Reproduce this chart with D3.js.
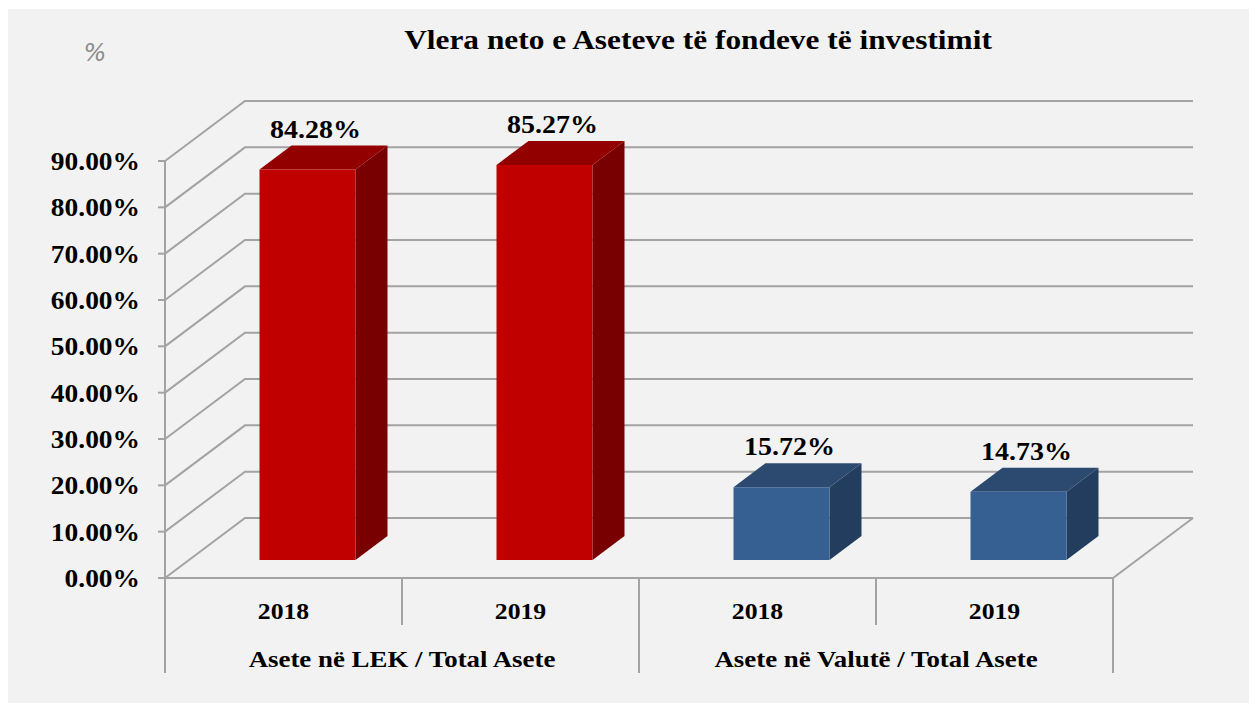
<!DOCTYPE html>
<html>
<head>
<meta charset="utf-8">
<script src="https://cdn.jsdelivr.net/npm/d3@7"></script>
<style>
  body { margin: 0; background: #ffffff; }
  text { font-family: "Liberation Serif", "Times New Roman", serif; font-weight: bold; fill: #000; }
</style>
</head>
<body>
<svg id="chart" width="1257" height="711"></svg>
<script>
// data
var years = ["2018", "2019", "2018", "2019"];
var groups = ["Asete në LEK / Total Asete", "Asete në Valutë / Total Asete"];
var groupOf = [0, 0, 1, 1];
var values = [84.28, 85.27, 15.72, 14.73];
var yTicks = [0, 10, 20, 30, 40, 50, 60, 70, 80, 90];

var plotLeft = 165, plotRight = 1113, plotBottom = 578, plotTop = 161;
var DX = 80, DY = 60;          // depth offset of the back wall
var z1 = 0.3, z2 = 0.7;        // bar depth (front/back)
var SX = 1.12;                 // text is a bit wider than the font

var faceColors = [
  { front: "#c00000", top: "#920000", side: "#780000" },
  { front: "#376092", top: "#2c4a70", side: "#233d5e" }
];

var svg = d3.select("#chart");

svg.append("rect")
  .attr("x", 8).attr("y", 9)
  .attr("width", 1241).attr("height", 694)
  .attr("fill", "#f2f2f2");

var y = d3.scaleLinear().domain([0, 90]).range([plotBottom, plotTop]);
var xCat = d3.scaleBand().domain(d3.range(years.length)).range([plotLeft, plotRight]);
var xBar = d3.scaleBand().domain(d3.range(years.length)).range([plotLeft, plotRight])
  .paddingInner(0.595).paddingOuter(0.2975);

function proj(x, v, z) {
  return [x + z * DX, y(v) - z * DY];
}
function place(x, yy) {
  return "translate(" + x + "," + yy + ") scale(" + SX + ",1)";
}
var line = d3.line();

// grid: diagonal on the side wall + horizontal on back wall
var grid = svg.append("g").attr("fill", "none").attr("stroke", "#a3a3a3").attr("stroke-width", 2);
yTicks.forEach(function (t) {
  grid.append("path").attr("d", line([proj(plotLeft, t, 0), proj(plotLeft, t, 1), proj(plotRight, t, 1)]));
});
// floor edges
grid.append("path").attr("d", line([[plotLeft - 7, y(0)], proj(plotRight, 0, 0), proj(plotRight, 0, 1)]));
// vertical axis + ticks
grid.append("path").attr("d", line([proj(plotLeft, 0, 0), proj(plotLeft, 90, 0)]));
yTicks.forEach(function (t) {
  grid.append("path").attr("d", line([[plotLeft - 7, y(t)], [plotLeft, y(t)]]));
});
// category separators below axis
d3.range(years.length + 1).forEach(function (i) {
  var x = i < years.length ? xCat(i) : plotRight;
  var long = (i % 2 === 0);
  grid.append("path").attr("d", line([[x, plotBottom], [x, long ? 673 : 625]]));
});

// y tick labels
svg.append("g").selectAll("text")
  .data(yTicks).enter().append("text")
  .attr("transform", function (d) { return place(140, y(d) + 9); })
  .attr("text-anchor", "end")
  .attr("font-size", 24.5)
  .text(function (d) { return d.toFixed(2) + "%"; });

// bars
var bars = svg.append("g").selectAll("g")
  .data(values).enter().append("g");

bars.append("path")
  .attr("fill", function (d, i) { return faceColors[groupOf[i]].side; })
  .attr("d", function (d, i) {
    var x1 = xBar(i) + xBar.bandwidth();
    return line([proj(x1, 0, z1), proj(x1, 0, z2), proj(x1, d, z2), proj(x1, d, z1)]) + "Z";
  });
bars.append("path")
  .attr("fill", function (d, i) { return faceColors[groupOf[i]].top; })
  .attr("d", function (d, i) {
    var x0 = xBar(i), x1 = x0 + xBar.bandwidth();
    return line([proj(x0, d, z1), proj(x1, d, z1), proj(x1, d, z2), proj(x0, d, z2)]) + "Z";
  });
bars.append("path")
  .attr("fill", function (d, i) { return faceColors[groupOf[i]].front; })
  .attr("d", function (d, i) {
    var x0 = xBar(i), x1 = x0 + xBar.bandwidth();
    return line([proj(x0, 0, z1), proj(x1, 0, z1), proj(x1, d, z1), proj(x0, d, z1)]) + "Z";
  });

// data labels
bars.append("text")
  .attr("text-anchor", "middle")
  .attr("font-size", 25)
  .attr("transform", function (d, i) {
    return place(proj(xBar(i) + xBar.bandwidth() / 2, d, 0.4)[0], proj(0, d, z2)[1] - 8);
  })
  .text(function (d) { return d.toFixed(2) + "%"; });

// category labels
svg.append("g").selectAll("text")
  .data(years).enter().append("text")
  .attr("transform", function (d, i) { return place(xCat(i) + xCat.bandwidth() / 2, 619); })
  .attr("text-anchor", "middle")
  .attr("font-size", 23)
  .text(function (d) { return d; });

svg.append("g").selectAll("text")
  .data(groups).enter().append("text")
  .attr("transform", function (d, i) { return place(xCat(i * 2) + xCat.bandwidth(), 667); })
  .attr("text-anchor", "middle")
  .attr("font-size", 24)
  .text(function (d) { return d; });

// title
svg.append("text")
  .attr("transform", place(698, 49))
  .attr("text-anchor", "middle")
  .attr("font-size", 28)
  .text("Vlera neto e Aseteve të fondeve të investimit");

svg.append("text")
  .attr("x", 95).attr("y", 61)
  .attr("text-anchor", "middle")
  .attr("font-size", 24)
  .style("font-family", "'DejaVu Sans', sans-serif")
  .style("font-weight", "normal")
  .style("font-style", "italic")
  .style("fill", "#8c8c8c")
  .text("%");
</script>
</body>
</html>
